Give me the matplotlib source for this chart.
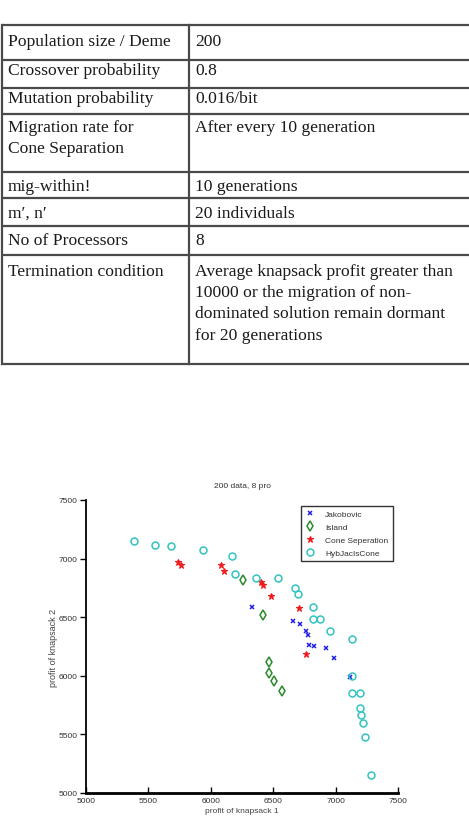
import matplotlib
matplotlib.use("Agg")
import matplotlib.pyplot as plt

# ---------------- data ----------------
table_params = ["Population size / Deme", "Crossover probability", "Mutation probability",
                "Migration rate for\nCone Separation", "mig-within!", "m\u2032, n\u2032",
                "No of Processors", "Termination condition"]
table_values = ["200", "0.8", "0.016/bit", "After every 10 generation", "10 generations",
                "20 individuals", "8",
                "Average knapsack profit greater than\n10000 or the migration of non-\n"
                "dominated solution remain dormant\nfor 20 generations"]

jak_x = [6333, 6656, 6715, 6760, 6779, 6787, 6830, 6923, 6987, 7115]
jak_y = [6590, 6468, 6442, 6380, 6351, 6263, 6252, 6237, 6152, 5992]

isl_x = [6258, 6421, 6469, 6469, 6504, 6571]
isl_y = [6817, 6521, 6118, 6027, 5953, 5868]

cone_x = [5740, 5759, 6079, 6103, 6405, 6416, 6480, 6709, 6763]
cone_y = [6968, 6948, 6943, 6897, 6803, 6777, 6678, 6576, 6183]

hyb_x = [5385, 5550, 5678, 5935, 6167, 6194, 6360, 6536, 6672, 6696, 6816, 6816, 6875,
         6952, 7134, 7134, 7134, 7192, 7192, 7205, 7221, 7237, 7286]
hyb_y = [7150, 7113, 7105, 7071, 7022, 6866, 6832, 6834, 6747, 6700, 6584, 6485, 6485,
         6380, 6317, 5998, 5856, 5856, 5722, 5665, 5600, 5478, 5151]

x_ticks = [5000, 5500, 6000, 6500, 7000, 7500]
y_ticks = [5000, 5500, 6000, 6500, 7000, 7500]

# ---------------- figure ----------------
W, H = 469, 837
fig = plt.figure(figsize=(W / 100, H / 100), dpi=100)
fig.patch.set_facecolor("white")

# table drawn in a pixel-coordinate axes
tax = fig.add_axes([0, 0, 1, 1])
tax.set_xlim(0, W)
tax.set_ylim(H, 0)
tax.axis("off")

row_lines = [26, 61, 89, 115, 173, 199, 227, 256, 365]
text_y = [42, 71, 99, 128, 187, 214, 241, 272]
left_x, div_x, right_x = 2, 189, W + 2
line_col = "#4a4a4a"
for y in row_lines:
    tax.plot([left_x, right_x], [y, y], color=line_col, lw=1.6, solid_capstyle="butt")
tax.plot([left_x, left_x], [row_lines[0], row_lines[-1]], color=line_col, lw=1.6)
tax.plot([div_x, div_x], [row_lines[0], row_lines[-1]], color=line_col, lw=1.6)

serif = ["Liberation Serif", "DejaVu Serif"]
for i, (p, v) in enumerate(zip(table_params, table_values)):
    y = text_y[i]
    tax.text(8, y - 8.5, p, family=serif, fontsize=12.6, color="#1a1a1a",
             va="top", ha="left", linespacing=1.45)
    tax.text(195, y - 8.5, v, family=serif, fontsize=12.6, color="#1a1a1a",
             va="top", ha="left", linespacing=1.45)

# scatter plot
ax = fig.add_axes([86 / W, (H - 794) / H, 312 / W, 293 / H])
sans = ["Liberation Sans", "DejaVu Sans"]

ax.plot(jak_x, jak_y, linestyle="none", marker="x", color="#1f1fe0",
        markersize=3.5, markeredgewidth=1.1, label="Jakobovic")
ax.plot(isl_x, isl_y, linestyle="none", marker="d", color="#2a8a2a",
        markerfacecolor="none", markersize=5.5, markeredgewidth=1.1, label="Island")
ax.plot(cone_x, cone_y, linestyle="none", marker="*", color="#ee1c1c",
        markersize=5, markeredgewidth=0.8, label="Cone Seperation")
ax.plot(hyb_x, hyb_y, linestyle="none", marker="o", color="#33c2c2",
        markerfacecolor="none", markersize=5, markeredgewidth=1.1, label="HybJacIsCone")

ax.set_xlim(5000, 7500)
ax.set_ylim(5000, 7500)
ax.set_xticks(x_ticks)
ax.set_yticks(y_ticks)
ax.set_xticklabels([str(t) for t in x_ticks], family=sans, fontsize=6, color="#333")
ax.set_yticklabels([str(t) for t in y_ticks], family=sans, fontsize=6, color="#333")
ax.tick_params(axis="x", direction="in", length=4, width=1, pad=3)
ax.tick_params(axis="y", direction="out", length=4, width=1, pad=2)
for s in ["top", "right"]:
    ax.spines[s].set_visible(False)
ax.spines["bottom"].set_linewidth(2)
ax.spines["left"].set_linewidth(1.3)

ax.set_title("200 data, 8 pro", family=sans, fontsize=6, color="#333", pad=9)
ax.set_xlabel("profit of knapsack 1", family=sans, fontsize=6, color="#444", labelpad=2)
ax.set_ylabel("profit of knapsack 2", family=sans, fontsize=6.5, color="#444", labelpad=0.5)

leg = ax.legend(loc="upper left", bbox_to_anchor=((301 - 86) / 312, (794 - 507) / 293),
                prop={"family": sans, "size": 6}, frameon=True, fancybox=False,
                handlelength=1.2, handletextpad=1.2, borderpad=0.5, labelspacing=0.6,
                borderaxespad=0)
leg.get_frame().set_edgecolor("black")
leg.get_frame().set_linewidth(1)
for t in leg.get_texts():
    t.set_color("#333")

fig.savefig("out.png", dpi=100)
